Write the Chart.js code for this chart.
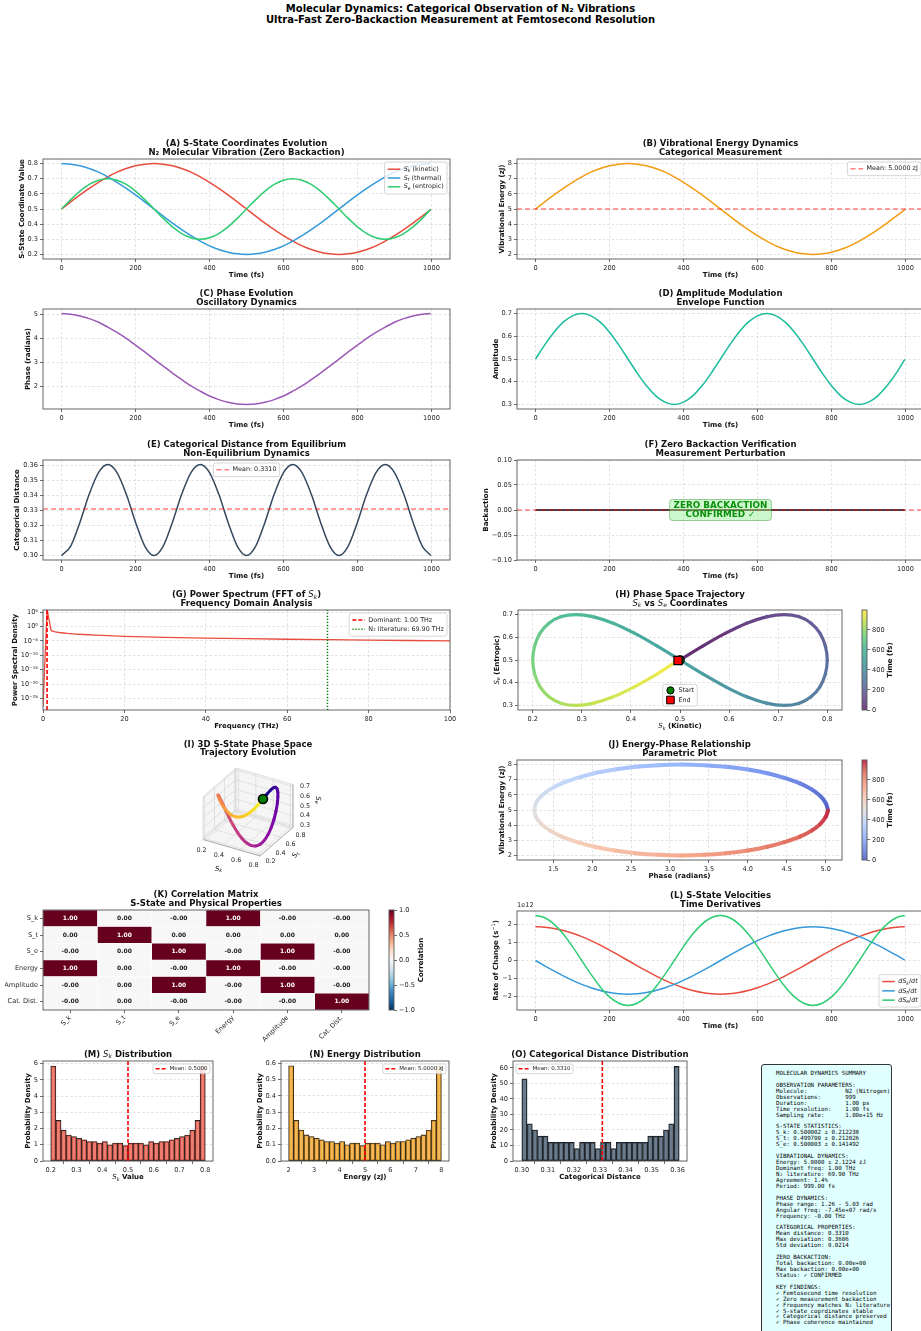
<!DOCTYPE html>
<html>
<head>
<meta charset="utf-8">
<title>Molecular Dynamics: Categorical Observation of N₂ Vibrations</title>
<script src="https://cdn.jsdelivr.net/npm/chart.js@4.4.1/dist/chart.umd.min.js"></script>
<style>
  html, body { margin:0; padding:0; background:#ffffff; }
  body { position:relative; width:921px; height:1331px; overflow:hidden; }
  canvas { position:absolute; }
  #suptitle { position:absolute; left:0; top:3px; width:921px; text-align:center;
    font:bold 10px 'DejaVu Sans', sans-serif; line-height:11px; color:#000; }
  #summary { position:absolute; left:761px; top:1064px; width:131px; height:290px;
    box-sizing:border-box; background:#e0ffff; border:1px solid #333; border-radius:3px; }
  #summary pre { position:absolute; left:14px; top:6px; margin:0;
    font-family:'DejaVu Sans Mono', monospace; font-size:5.75px; line-height:5.936px; color:#000; }
</style>
</head>
<body>
<div id="suptitle">Molecular Dynamics: Categorical Observation of N₂ Vibrations<br>Ultra-Fast Zero-Backaction Measurement at Femtosecond Resolution</div>
<div id="summary"><pre>MOLECULAR DYNAMICS SUMMARY

OBSERVATION PARAMETERS:
Molecule:           N2 (Nitrogen)
Observations:       999
Duration:           1.00 ps
Time resolution:    1.00 fs
Sampling rate:      1.00e+15 Hz

S-STATE STATISTICS:
S_k: 0.500002 ± 0.212238
S_t: 0.499700 ± 0.212026
S_e: 0.500003 ± 0.141492

VIBRATIONAL DYNAMICS:
Energy: 5.0000 ± 2.1224 zJ
Dominant freq: 1.00 THz
N₂ literature: 69.90 THz
Agreement: 1.4%
Period: 999.00 fs

PHASE DYNAMICS:
Phase range: 1.26 - 5.03 rad
Angular freq: -7.45e+07 rad/s
Frequency: -0.00 THz

CATEGORICAL PROPERTIES:
Mean distance: 0.3310
Max deviation: 0.3606
Std deviation: 0.0214

ZERO BACKACTION:
Total backaction: 0.00e+00
Max backaction: 0.00e+00
Status: ✓ CONFIRMED

KEY FINDINGS:
✓ Femtosecond time resolution
✓ Zero measurement backaction
✓ Frequency matches N₂ literature
✓ S-state coordinates stable
✓ Categorical distance preserved
✓ Phase coherence maintained</pre></div>
<script>
// ================= data =================
// trajectory sampled every 25 fs (last sample at 998 fs)
const timeFs = [0,25,50,75,100,125,150,175,200,225,250,275,300,325,350,375,400,425,450,475,500,525,550,575,600,625,650,675,700,725,750,775,800,825,850,875,900,925,950,975,998];
const sKinetic = [0.500,0.547,0.593,0.636,0.676,0.712,0.743,0.767,0.785,0.796,0.800,0.796,0.785,0.767,0.743,0.712,0.676,0.636,0.593,0.547,0.500,0.453,0.407,0.364,0.324,0.288,0.257,0.233,0.215,0.204,0.200,0.204,0.215,0.233,0.257,0.288,0.324,0.364,0.407,0.453,0.496];
const sThermal = [0.800,0.796,0.785,0.767,0.743,0.712,0.676,0.636,0.593,0.547,0.500,0.453,0.407,0.364,0.324,0.288,0.257,0.233,0.215,0.204,0.200,0.204,0.215,0.233,0.257,0.288,0.324,0.364,0.407,0.453,0.500,0.547,0.593,0.636,0.676,0.712,0.743,0.767,0.785,0.796,0.800];
const sEntropic = [0.500,0.562,0.618,0.662,0.690,0.700,0.690,0.662,0.618,0.562,0.500,0.438,0.382,0.338,0.310,0.300,0.310,0.338,0.382,0.438,0.500,0.562,0.618,0.662,0.690,0.700,0.690,0.662,0.618,0.562,0.500,0.438,0.382,0.338,0.310,0.300,0.310,0.338,0.382,0.438,0.498];
const vibEnergy = [5.00,5.47,5.93,6.36,6.76,7.12,7.43,7.67,7.85,7.96,8.00,7.96,7.85,7.67,7.43,7.12,6.76,6.36,5.93,5.47,5.00,4.53,4.07,3.64,3.24,2.88,2.57,2.33,2.15,2.04,2.00,2.04,2.15,2.33,2.57,2.88,3.24,3.64,4.07,4.53,4.96];
const phaseRad = [5.03,5.00,4.93,4.82,4.67,4.47,4.25,4.00,3.72,3.44,3.14,2.85,2.56,2.29,2.03,1.81,1.61,1.46,1.35,1.28,1.26,1.28,1.35,1.46,1.61,1.81,2.03,2.29,2.56,2.85,3.14,3.44,3.72,4.00,4.25,4.47,4.67,4.82,4.93,5.00,5.03];
const amplitude = [0.500,0.562,0.618,0.662,0.690,0.700,0.690,0.662,0.618,0.562,0.500,0.438,0.382,0.338,0.310,0.300,0.310,0.338,0.382,0.438,0.500,0.562,0.618,0.662,0.690,0.700,0.690,0.662,0.618,0.562,0.500,0.438,0.382,0.338,0.310,0.300,0.310,0.338,0.382,0.438,0.498];
const catDistance = [0.3000,0.3063,0.3222,0.3409,0.3552,0.3606,0.3552,0.3409,0.3222,0.3063,0.3000,0.3063,0.3222,0.3409,0.3552,0.3606,0.3552,0.3409,0.3222,0.3063,0.3000,0.3063,0.3222,0.3409,0.3552,0.3606,0.3552,0.3409,0.3222,0.3063,0.3000,0.3063,0.3222,0.3409,0.3552,0.3606,0.3552,0.3409,0.3222,0.3063,0.3000];
const backaction = [0,0,0,0,0,0,0,0,0,0,0,0,0,0,0,0,0,0,0,0,0,0,0,0,0,0,0,0,0,0,0,0,0,0,0,0,0,0,0,0,0];
// velocities in units of 1e12 s^-1
const dSkDt = [1.885,1.862,1.793,1.680,1.525,1.333,1.108,0.856,0.582,0.295,0,-0.295,-0.582,-0.856,-1.108,-1.333,-1.525,-1.680,-1.793,-1.862,-1.885,-1.862,-1.793,-1.680,-1.525,-1.333,-1.108,-0.856,-0.582,-0.295,0,0.295,0.582,0.856,1.108,1.333,1.525,1.680,1.793,1.862,1.885];
const dStDt = [0,-0.295,-0.582,-0.856,-1.108,-1.333,-1.525,-1.680,-1.793,-1.862,-1.885,-1.862,-1.793,-1.680,-1.525,-1.333,-1.108,-0.856,-0.582,-0.295,0,0.295,0.582,0.856,1.108,1.333,1.525,1.680,1.793,1.862,1.885,1.862,1.793,1.680,1.525,1.333,1.108,0.856,0.582,0.295,0.024];
const dSeDt = [2.513,2.390,2.033,1.477,0.777,0,-0.777,-1.477,-2.033,-2.390,-2.513,-2.390,-2.033,-1.477,-0.777,0,0.777,1.477,2.033,2.390,2.513,2.390,2.033,1.477,0.777,0,-0.777,-1.477,-2.033,-2.390,-2.513,-2.390,-2.033,-1.477,-0.777,0,0.777,1.477,2.033,2.390,2.513];

// power spectrum of S_k
const freqTHz = [0,1,2,3,4,5,6,8,10,13,16,20,25,30,40,50,60,70,80,90,100];
const psdSk = [1e-28,1e6,4e-2,1.6e-2,9e-3,6e-3,4.2e-3,2.6e-3,1.8e-3,1.1e-3,7e-4,4e-4,2.6e-4,1.8e-4,1e-4,6.2e-5,4e-5,2.8e-5,2e-5,1.5e-5,1.1e-5];
const DOMINANT_THZ = 1.00;
const N2_LITERATURE_THZ = 69.90;

// means
const MEAN_ENERGY = 5.0000;
const MEAN_DISTANCE = 0.3310;
const MEAN_SK = 0.5000;

// correlation matrix
const corrLabels = ['S_k','S_t','S_e','Energy','Amplitude','Cat. Dist.'];
const corrMatrix = [
  [1, 0.001, -0.001, 1, -0.001, -0.001],
  [0.001, 1, 0.001, 0.001, 0.001, 0.001],
  [-0.001, 0.001, 1, -0.001, 1, -0.001],
  [1, 0.001, -0.001, 1, -0.001, -0.001],
  [-0.001, 0.001, 1, -0.001, 1, -0.001],
  [-0.001, 0.001, -0.001, -0.001, -0.001, 1]
];

// histograms (30 bins each)
const skHist = [5.85,2.5,1.9,1.6,1.5,1.4,1.3,1.2,1.2,1.1,1.2,1.0,1.1,1.1,0.95,1.1,1.1,1.1,1.0,1.2,1.1,1.2,1.2,1.3,1.4,1.5,1.6,1.9,2.5,5.85];
const skHistRange = [0.2, 0.8];
const energyHist = [0.585,0.25,0.19,0.16,0.15,0.14,0.13,0.12,0.12,0.11,0.12,0.10,0.11,0.11,0.095,0.11,0.11,0.11,0.10,0.12,0.11,0.12,0.12,0.13,0.14,0.15,0.16,0.19,0.25,0.585];
const energyHistRange = [2.0, 8.0];
const distHist = [53,24,20,16,16,12,12,12,12,12,8,12,12,12,8,12,12,8,12,12,12,12,12,12,16,16,16,20,24,61];
const distHistRange = [0.3000, 0.3606];

// tick values
const TIME_TICKS = [0,200,400,600,800,1000];
const SK_TICKS = [0.2,0.3,0.4,0.5,0.6,0.7,0.8];
const ENERGY_TICKS = [2,3,4,5,6,7,8];
const PHASE_Y_TICKS = [2,3,4,5];
const AMP_TICKS = [0.3,0.4,0.5,0.6,0.7];
const DIST_TICKS = [0.30,0.31,0.32,0.33,0.34,0.35,0.36];
const BACK_TICKS = [-0.10,-0.05,0,0.05,0.10];
const FREQ_TICKS = [0,20,40,60,80,100];
const PSD_TICKS = [1e5,1,1e-5,1e-10,1e-15,1e-20,1e-25];
const PHASE_X_TICKS = [1.5,2.0,2.5,3.0,3.5,4.0,4.5,5.0];
const CBAR_TIME_TICKS = [0,200,400,600,800];
const CORR_TICKS = [-1,-0.5,0,0.5,1];
const RATE_TICKS = [-2,-1,0,1,2];
const M_Y_TICKS = [0,1,2,3,4,5,6];
const N_Y_TICKS = [0,0.1,0.2,0.3,0.4,0.5,0.6];
const N_X_TICKS = [2,3,4,5,6,7,8];
const O_Y_TICKS = [0,10,20,30,40,50,60];
const TICKS3 = { x:[0.2,0.4,0.6,0.8], y:[0.2,0.4,0.6,0.8], z:[0.3,0.4,0.5,0.6,0.7] };

// ================= styling helpers =================
const FONT = "'DejaVu Sans', sans-serif";
const VIRIDIS = ['#440154','#472d7b','#3b528b','#2c728e','#21918c','#28ae80','#5ec962','#addc30','#fde725'];
const PLASMA = ['#0d0887','#4c02a1','#7e03a8','#a92395','#cc4778','#e56b5d','#f89540','#fdc328','#f0f921'];
const COOLWARM = ['#3b4cc0','#6282ea','#8db0fe','#b8d0f9','#dddddd','#f5c4ac','#f49a7b','#de604d','#b40426'];
const RDBU_R = ['#053061','#2166ac','#4393c3','#92c5de','#d1e5f0','#f7f7f7','#fddbc7','#f4a582','#d6604d','#b2182b','#67001f'];
const T_END = timeFs[timeFs.length - 1];

Chart.defaults.font.family = FONT;
Chart.defaults.font.size = 6.6;
Chart.defaults.color = '#262626';

function hexRgb(h){ const n = parseInt(h.slice(1), 16); return [(n >> 16) & 255, (n >> 8) & 255, n & 255]; }
// colour lookup; 'fade' blends towards white (opaque result)
function cmap(stops, t, fade){
  t = Math.max(0, Math.min(1, t));
  const n = stops.length - 1, k = Math.min(n - 1, Math.floor(t * n)), f = t * n - k;
  const a = hexRgb(stops[k]), b = hexRgb(stops[k + 1]);
  const w = fade || 0;
  const c = a.map((v, i) => Math.round((v + (b[i] - v) * f) * (1 - w) + 255 * w));
  return 'rgb(' + c[0] + ',' + c[1] + ',' + c[2] + ')';
}
function merge(a, b){
  Object.keys(b).forEach(k => {
    const v = b[k];
    if (v && typeof v === 'object' && !Array.isArray(v) && a[k] && typeof a[k] === 'object' && !Array.isArray(a[k])) merge(a[k], v);
    else a[k] = v;
  });
  return a;
}
function fmtFixed(d){ return v => (v < -1e-12 ? '−' : '') + Math.abs(v).toFixed(d); }
const SUP = { '0':'⁰','1':'¹','2':'²','3':'³','4':'⁴','5':'⁵','6':'⁶','7':'⁷','8':'⁸','9':'⁹','-':'⁻' };
function fmtPow10(v){ const e = Math.round(Math.log10(v)); return '10' + String(e).split('').map(c => SUP[c]).join(''); }

function axisCfg(min, max, ticks, fmt, more){
  const base = {
    type: 'linear', min, max, bounds: 'data', offset: false,
    afterBuildTicks: s => { s.ticks = ticks.map(v => ({ value: v })); },
    ticks: { callback: v => fmt(v), padding: 2, autoSkip: false, maxRotation: 0, minRotation: 0, color: '#262626', font: { size: 6.6 } },
    grid: { color: 'rgba(170,170,170,0.55)', lineWidth: 0.6, tickLength: 3, tickColor: '#444', tickWidth: 0.8, drawTicks: true },
    border: { display: false, dash: [2.5, 2] }
  };
  return merge(base, more || {});
}

function series(xs, ys, color, extra){
  return Object.assign({
    type: 'line', data: xs.map((x, i) => ({ x, y: ys[i] })), borderColor: color, backgroundColor: color,
    borderWidth: 1.5, pointRadius: 0, cubicInterpolationMode: 'monotone', fill: false, clip: 2
  }, extra || {});
}
function hline(x0, x1, y, color, extra){
  return series([x0, x1], [y, y], color, Object.assign({ cubicInterpolationMode: 'default', tension: 0 }, extra || {}));
}
function vline(x, y0, y1, color, extra){
  return series([x, x], [y0, y1], color, Object.assign({ cubicInterpolationMode: 'default', tension: 0, clip: 0 }, extra || {}));
}

// ---- text with simple $math$ markup (italic symbols, sub/superscripts) ----
function parseRich(s){
  const parts = [];
  String(s).split('$').forEach((seg, k) => {
    if (!seg) return;
    if (k % 2 === 0) { parts.push({ t: seg }); return; }
    let i = 0;
    while (i < seg.length) {
      const c = seg[i];
      if (c === '_' || c === '^') {
        let g;
        if (seg[i + 1] === '{') { const e = seg.indexOf('}', i + 1); g = seg.slice(i + 2, e); i = e + 1; }
        else { g = seg[i + 1]; i += 2; }
        parts.push({ t: g.replace(/-/g, '−'), m: 1, it: /[A-Za-z]/.test(g), sub: c === '_', sup: c === '^' });
      } else { parts.push({ t: c, m: 1, it: /[A-Za-z]/.test(c) }); i++; }
    }
  });
  return parts;
}
function partFont(p, size, bold){
  const sz = (p.sub || p.sup) ? size * 0.7 : size;
  return (p.it ? 'italic ' : '') + (bold && !p.m ? 'bold ' : '') + sz.toFixed(2) + 'px ' + FONT;
}
function richWidth(ctx, parts, size, bold){
  let w = 0;
  parts.forEach(p => { ctx.font = partFont(p, size, bold); w += ctx.measureText(p.t).width; });
  return w;
}
function drawRich(ctx, text, x, y, align, size, bold, color){
  const parts = parseRich(text);
  const w = richWidth(ctx, parts, size, bold);
  let cx = align === 'center' ? x - w / 2 : (align === 'right' ? x - w : x);
  ctx.fillStyle = color || '#111';
  ctx.textBaseline = 'middle'; ctx.textAlign = 'left';
  parts.forEach(p => {
    ctx.font = partFont(p, size, bold);
    const dy = p.sub ? size * 0.28 : (p.sup ? -size * 0.35 : 0);
    ctx.fillText(p.t, cx, y + dy);
    cx += ctx.measureText(p.t).width;
  });
  return w;
}
function roundRectPath(ctx, x, y, w, h, r){
  ctx.beginPath();
  ctx.moveTo(x + r, y); ctx.lineTo(x + w - r, y); ctx.quadraticCurveTo(x + w, y, x + w, y + r);
  ctx.lineTo(x + w, y + h - r); ctx.quadraticCurveTo(x + w, y + h, x + w - r, y + h);
  ctx.lineTo(x + r, y + h); ctx.quadraticCurveTo(x, y + h, x, y + h - r);
  ctx.lineTo(x, y + r); ctx.quadraticCurveTo(x, y, x + r, y); ctx.closePath();
}
function drawLegend(ctx, a, L){
  const fs = L.fs || 6.4, rowH = L.rowH || fs * 1.38, px = L.px || 3.2, py = L.py || 2.4;
  const hl = L.hl || 12.5, gap = L.gap || 3.5, m = L.m == null ? 3 : L.m;
  let tw = 0;
  L.items.forEach(it => { tw = Math.max(tw, richWidth(ctx, parseRich(it.label), fs, false)); });
  const w = px * 2 + hl + gap + tw, h = py * 2 + rowH * L.items.length;
  const loc = L.loc || 'ur';
  let x = loc[1] === 'r' ? a.right - m - w : (loc[1] === 'l' ? a.left + m : (a.left + a.right - w) / 2);
  let y = loc[0] === 'u' ? a.top + m : a.bottom - m - h;
  ctx.save();
  roundRectPath(ctx, x, y, w, h, 2);
  ctx.fillStyle = 'rgba(255,255,255,0.8)'; ctx.fill();
  ctx.strokeStyle = '#cccccc'; ctx.lineWidth = 0.8; ctx.stroke();
  L.items.forEach((it, k) => {
    const cy = y + py + rowH * (k + 0.5), x0 = x + px;
    if (it.marker) {
      ctx.fillStyle = it.color; ctx.strokeStyle = '#000'; ctx.lineWidth = 1;
      ctx.beginPath();
      const s = it.size || 3.6;
      if (it.marker === 'circle') ctx.arc(x0 + hl / 2, cy, s, 0, Math.PI * 2);
      else ctx.rect(x0 + hl / 2 - s, cy - s, 2 * s, 2 * s);
      ctx.fill(); ctx.stroke();
    } else {
      ctx.strokeStyle = it.color; ctx.lineWidth = it.lw || 1.5; ctx.setLineDash(it.dash || []);
      ctx.beginPath(); ctx.moveTo(x0, cy); ctx.lineTo(x0 + hl, cy); ctx.stroke();
      ctx.setLineDash([]);
    }
    drawRich(ctx, it.label, x0 + hl + gap, cy, 'left', fs, false, '#222');
  });
  ctx.restore();
}

// titles, axis labels, frame and legend for one panel
function decoPlugin(o){
  return {
    id: 'deco',
    beforeDatasetsDraw(chart){
      if (o.before) { const c = chart.ctx; c.save(); o.before(chart, c, chart.chartArea); c.restore(); }
    },
    afterDraw(chart){
      const ctx = chart.ctx, a = chart.chartArea;
      ctx.save();
      if (o.after) { ctx.save(); o.after(chart, ctx, a); ctx.restore(); }
      if (o.frame !== false) {
        ctx.setLineDash([]); ctx.strokeStyle = '#555'; ctx.lineWidth = 0.9;
        ctx.strokeRect(a.left, a.top, a.right - a.left, a.bottom - a.top);
      }
      const cx = (a.left + a.right) / 2;
      if (o.title) o.title.forEach((t, i, arr) =>
        drawRich(ctx, t, cx + (o.titleDx || 0), a.top - 6.7 - (arr.length - 1 - i) * 8.6 + (o.titleDy || 0), 'center', 8.5, true, '#111'));
      if (o.xlabel) drawRich(ctx, o.xlabel, cx, a.bottom + 16.5, 'center', 7, true, '#111');
      const lab = o.ylabel || o.rlabel;
      if (lab) {
        const sc = chart.scales.y;
        ctx.font = '6.6px ' + FONT;
        let mw = 0;
        sc.ticks.forEach(t => { mw = Math.max(mw, ctx.measureText(String(t.label)).width); });
        const x = o.rlabel ? a.right + 5 + mw + 2.2 + 3.5 : a.left - 5 - mw - 2.2 - 3.5;
        ctx.save(); ctx.translate(x, (a.top + a.bottom) / 2); ctx.rotate(-Math.PI / 2);
        drawRich(ctx, lab, 0, 0, 'center', 7, true, '#111');
        ctx.restore();
      }
      if (o.legend) drawLegend(ctx, a, o.legend);
      ctx.restore();
    }
  };
}

// places a canvas so that the plotting area lands exactly on 'box'
function makeChart(box, pad, config, deco){
  const cv = document.createElement('canvas');
  const W = box.w + pad.l + pad.r, H = box.h + pad.t + pad.b;
  cv.width = W; cv.height = H;
  Object.assign(cv.style, { left: (box.x - pad.l) + 'px', top: (box.y - pad.t) + 'px', width: W + 'px', height: H + 'px' });
  document.body.appendChild(cv);
  const opt = config.options = config.options || {};
  const scales = opt.scales || {};
  const padding = { left: pad.l, right: pad.r, top: pad.t, bottom: pad.b };
  Object.keys(scales).forEach(id => {
    const s = scales[id];
    if (s.display === false) return;
    if (id[0] === 'x') { s.afterFit = sc => { sc.height = pad.b; }; padding.bottom = 0; }
    else if (s.position === 'right') { s.afterFit = sc => { sc.width = pad.r; }; padding.right = 0; }
    else { s.afterFit = sc => { sc.width = pad.l; }; padding.left = 0; }
  });
  opt.layout = { padding };
  opt.responsive = false; opt.animation = false; opt.devicePixelRatio = 1; opt.events = [];
  opt.plugins = { legend: { display: false }, tooltip: { enabled: false } };
  config.data.datasets.forEach((d, i) => { if (d.order == null) d.order = -i; });
  config.plugins = [decoPlugin(deco || {})];
  return new Chart(cv, config);
}

function colorbar(box, stops, fade, min, max, ticks, fmt, label){
  return makeChart(box, { l: 2, r: 42, t: 8, b: 8 }, {
    type: 'bar',
    data: { labels: [''], datasets: [{
      data: [[min, max]], barPercentage: 1, categoryPercentage: 1, borderWidth: 0,
      backgroundColor: c => {
        const a = c.chart.chartArea;
        if (!a) return 'transparent';
        const g = c.chart.ctx.createLinearGradient(0, a.bottom, 0, a.top);
        const n = 24;
        for (let i = 0; i <= n; i++) g.addColorStop(i / n, cmap(stops, i / n, fade));
        return g;
      }
    }]},
    options: { scales: {
      x: { display: false },
      y: axisCfg(min, max, ticks, fmt, { position: 'right', grid: { drawOnChartArea: false } })
    } }
  }, { rlabel: label });
}

function histData(vals, range){
  const w = (range[1] - range[0]) / vals.length;
  return vals.map((v, i) => ({ x: range[0] + (i + 0.5) * w, y: v }));
}
function histDataset(vals, range, fill){
  return { type: 'bar', data: histData(vals, range), backgroundColor: fill, borderColor: '#1e1e1e',
    borderWidth: 0.8, borderSkipped: false, barPercentage: 1, categoryPercentage: 1 };
}

const PAD = { l: 38, r: 16, t: 26, b: 24 };
const xTime = () => axisCfg(-50, 1050, TIME_TICKS, fmtFixed(0));
const meanRed = 'rgba(255,0,0,0.5)';

// ---------- (A) ----------
makeChart({ x: 43, y: 159, w: 407, h: 100 }, PAD, {
  type: 'line',
  data: { datasets: [
    series(timeFs, sKinetic, '#e74c3c'),
    series(timeFs, sThermal, '#3498db'),
    series(timeFs, sEntropic, '#2ecc71')
  ]},
  options: { scales: { x: xTime(), y: axisCfg(0.17, 0.83, SK_TICKS, fmtFixed(1)) } }
}, {
  title: ['(A) S-State Coordinates Evolution', 'N₂ Molecular Vibration (Zero Backaction)'],
  xlabel: 'Time (fs)', ylabel: 'S-State Coordinate Value',
  legend: { loc: 'ur', rowH: 8.8, py: 2.8, items: [
    { label: '$S_k$ (kinetic)', color: '#e74c3c' },
    { label: '$S_t$ (thermal)', color: '#3498db' },
    { label: '$S_e$ (entropic)', color: '#2ecc71' }
  ]}
});

// ---------- (B) ----------
makeChart({ x: 517, y: 159, w: 407, h: 100 }, PAD, {
  type: 'line',
  data: { datasets: [
    series(timeFs, vibEnergy, '#f39c12'),
    hline(-50, 1050, MEAN_ENERGY, meanRed, { borderDash: [5, 3] })
  ]},
  options: { scales: { x: xTime(), y: axisCfg(1.7, 8.3, ENERGY_TICKS, fmtFixed(0)) } }
}, {
  title: ['(B) Vibrational Energy Dynamics', 'Categorical Measurement'],
  xlabel: 'Time (fs)', ylabel: 'Vibrational Energy (zJ)',
  legend: { loc: 'ur', items: [{ label: 'Mean: ' + MEAN_ENERGY.toFixed(4) + ' zJ', color: meanRed, dash: [5, 3] }] }
});

// ---------- (C) ----------
makeChart({ x: 43, y: 309, w: 407, h: 100 }, PAD, {
  type: 'line',
  data: { datasets: [ series(timeFs, phaseRad, '#9b59b6') ] },
  options: { scales: { x: xTime(), y: axisCfg(1.07, 5.22, PHASE_Y_TICKS, fmtFixed(0)) } }
}, { title: ['(C) Phase Evolution', 'Oscillatory Dynamics'], xlabel: 'Time (fs)', ylabel: 'Phase (radians)' });

// ---------- (D) ----------
makeChart({ x: 517, y: 309, w: 407, h: 100 }, PAD, {
  type: 'line',
  data: { datasets: [ series(timeFs, amplitude, '#1abc9c') ] },
  options: { scales: { x: xTime(), y: axisCfg(0.28, 0.72, AMP_TICKS, fmtFixed(1)) } }
}, { title: ['(D) Amplitude Modulation', 'Envelope Function'], xlabel: 'Time (fs)', ylabel: 'Amplitude' });

// ---------- (E) ----------
makeChart({ x: 43, y: 460, w: 407, h: 100 }, PAD, {
  type: 'line',
  data: { datasets: [
    series(timeFs, catDistance, '#34495e'),
    hline(-50, 1050, MEAN_DISTANCE, meanRed, { borderDash: [5, 3] })
  ]},
  options: { scales: { x: xTime(), y: axisCfg(0.297, 0.3636, DIST_TICKS, fmtFixed(2)) } }
}, {
  title: ['(E) Categorical Distance from Equilibrium', 'Non-Equilibrium Dynamics'],
  xlabel: 'Time (fs)', ylabel: 'Categorical Distance',
  legend: { loc: 'uc', items: [{ label: 'Mean: ' + MEAN_DISTANCE.toFixed(4), color: meanRed, dash: [5, 3] }] }
});

// ---------- (F) ----------
makeChart({ x: 517, y: 460, w: 407, h: 100 }, PAD, {
  type: 'line',
  data: { datasets: [
    series(timeFs, backaction, '#000000', { borderWidth: 1.6 }),
    hline(-50, 1050, 0, meanRed, { borderDash: [5, 3] })
  ]},
  options: { scales: { x: xTime(), y: axisCfg(-0.1, 0.1, BACK_TICKS, fmtFixed(2)) } }
}, {
  title: ['(F) Zero Backaction Verification', 'Measurement Perturbation'],
  xlabel: 'Time (fs)', ylabel: 'Backaction',
  after: (chart, ctx, a) => {
    const cx = (a.left + a.right) / 2, cy = (a.top + a.bottom) / 2;
    const l1 = 'ZERO BACKACTION', l2 = 'CONFIRMED ✓';
    ctx.font = 'bold 8.8px ' + FONT;
    const w = Math.max(ctx.measureText(l1).width, ctx.measureText(l2).width) + 8, h = 21;
    roundRectPath(ctx, cx - w / 2, cy - h / 2, w, h, 3);
    ctx.fillStyle = 'rgba(144,238,144,0.45)'; ctx.fill();
    ctx.strokeStyle = 'rgba(60,150,60,0.6)'; ctx.lineWidth = 0.8; ctx.stroke();
    ctx.fillStyle = '#0a8f0a'; ctx.textAlign = 'center'; ctx.textBaseline = 'middle';
    ctx.fillText(l1, cx, cy - 4.6); ctx.fillText(l2, cx, cy + 4.8);
  }
});

// ---------- (G) ----------
makeChart({ x: 43, y: 610, w: 407, h: 100 }, PAD, {
  type: 'line',
  data: { datasets: [
    series(freqTHz, psdSk, '#e74c3c', { cubicInterpolationMode: 'default', tension: 0, clip: 0, borderWidth: 1.3 }),
    vline(DOMINANT_THZ, 1e-29, 6e5, '#ff0000', { borderDash: [4, 2], borderWidth: 1.6 }),
    vline(N2_LITERATURE_THZ, 1e-29, 6e5, '#008000', { borderDash: [1.2, 1.8], borderWidth: 1.5 })
  ]},
  options: { scales: {
    x: axisCfg(0, 100, FREQ_TICKS, fmtFixed(0)),
    y: axisCfg(1e-29, 6e5, PSD_TICKS, fmtPow10, { type: 'logarithmic' })
  } }
}, {
  title: ['(G) Power Spectrum (FFT of $S_k$)', 'Frequency Domain Analysis'],
  xlabel: 'Frequency (THz)', ylabel: 'Power Spectral Density',
  legend: { loc: 'ur', rowH: 9.2, items: [
    { label: 'Dominant: ' + DOMINANT_THZ.toFixed(2) + ' THz', color: '#ff0000', dash: [4, 2], lw: 1.6 },
    { label: 'N₂ literature: ' + N2_LITERATURE_THZ.toFixed(2) + ' THz', color: '#008000', dash: [1.2, 1.8], lw: 1.5 }
  ]}
});

// ---------- (H) ----------
const lastIdx = timeFs.length - 1;
makeChart({ x: 518, y: 610, w: 324, h: 100 }, PAD, {
  type: 'line',
  data: { datasets: [
    { type: 'line', data: sKinetic.map((x, i) => ({ x, y: sEntropic[i] })), borderColor: VIRIDIS[0], borderWidth: 3.2,
      tension: 0.35, pointRadius: 0, borderCapStyle: 'round', clip: 4,
      segment: { borderColor: c => cmap(VIRIDIS, timeFs[c.p0DataIndex] / T_END, 0.18) } },
    { type: 'scatter', data: [{ x: sKinetic[0], y: sEntropic[0] }], pointStyle: 'circle', pointRadius: 4.2,
      backgroundColor: '#008000', borderColor: '#000', borderWidth: 1.2 },
    { type: 'scatter', data: [{ x: sKinetic[lastIdx], y: sEntropic[lastIdx] }], pointStyle: 'rect', pointRadius: 5.8,
      backgroundColor: '#ff0000', borderColor: '#000', borderWidth: 1.2 }
  ]},
  options: { scales: { x: axisCfg(0.17, 0.83, SK_TICKS, fmtFixed(1)), y: axisCfg(0.28, 0.72, AMP_TICKS, fmtFixed(1)) } }
}, {
  title: ['(H) Phase Space Trajectory', '$S_k$ vs $S_e$ Coordinates'],
  xlabel: '$S_k$ (Kinetic)', ylabel: '$S_e$ (Entropic)',
  legend: { loc: 'lc', m: 4, rowH: 9.6, py: 1.2, hl: 9, items: [
    { label: 'Start', color: '#008000', marker: 'circle', size: 3.6 },
    { label: 'End', color: '#ff0000', marker: 'square', size: 3.8 }
  ]}
});
colorbar({ x: 862, y: 610, w: 5, h: 100 }, VIRIDIS, 0.25, 0, T_END, CBAR_TIME_TICKS, fmtFixed(0), 'Time (fs)');

// ---------- (I) 3-D trajectory ----------
const LIM3 = { x: [0.17, 0.83], y: [0.17, 0.83], z: [0.28, 0.72] };
const BOX3 = [4, 4, 3];
const ELEV = 30 * Math.PI / 180, AZIM = -60 * Math.PI / 180;
function proj3(x, y, z){
  const X = ((x - LIM3.x[0]) / (LIM3.x[1] - LIM3.x[0]) - 0.5) * BOX3[0];
  const Y = ((y - LIM3.y[0]) / (LIM3.y[1] - LIM3.y[0]) - 0.5) * BOX3[1];
  const Z = ((z - LIM3.z[0]) / (LIM3.z[1] - LIM3.z[0]) - 0.5) * BOX3[2];
  return {
    x: -Math.sin(AZIM) * X + Math.cos(AZIM) * Y,
    y: -Math.sin(ELEV) * Math.cos(AZIM) * X - Math.sin(ELEV) * Math.sin(AZIM) * Y + Math.cos(ELEV) * Z
  };
}
function pix3(chart, x, y, z){
  const p = proj3(x, y, z);
  return [chart.scales.x.getPixelForValue(p.x), chart.scales.y.getPixelForValue(p.y)];
}
const traj3 = timeFs.map((t, i) => proj3(sKinetic[i], sThermal[i], sEntropic[i]));
makeChart({ x: 203, y: 768, w: 90, h: 88 }, { l: 42, r: 48, t: 34, b: 24 }, {
  type: 'line',
  data: { datasets: [
    { type: 'line', data: traj3, borderColor: PLASMA[0], borderWidth: 3, tension: 0.35, pointRadius: 0,
      borderCapStyle: 'round', clip: false,
      segment: { borderColor: c => cmap(PLASMA, timeFs[c.p0DataIndex] / T_END, 0) } },
    { type: 'scatter', data: [traj3[0]], pointStyle: 'circle', pointRadius: 4.5, backgroundColor: '#008000',
      borderColor: '#000', borderWidth: 1.6, clip: false }
  ]},
  options: { scales: {
    x: { type: 'linear', display: false, min: -2.732, max: 2.732 },
    y: { type: 'linear', display: false, min: -2.665, max: 2.665 }
  } }
}, {
  frame: false, titleDy: -8.3,
  title: ['(I) 3D S-State Phase Space', 'Trajectory Evolution'],
  before: (chart, ctx) => {
    const P = (x, y, z) => pix3(chart, x, y, z);
    const [x0, x1] = LIM3.x, [y0, y1] = LIM3.y, [z0, z1] = LIM3.z;
    const poly = pts => {
      ctx.beginPath(); pts.forEach((p, i) => i ? ctx.lineTo(p[0], p[1]) : ctx.moveTo(p[0], p[1])); ctx.closePath();
      ctx.fillStyle = 'rgba(238,238,238,0.6)'; ctx.fill();
      ctx.strokeStyle = '#cfcfcf'; ctx.lineWidth = 0.6; ctx.stroke();
    };
    poly([P(x0, y0, z0), P(x0, y1, z0), P(x0, y1, z1), P(x0, y0, z1)]);
    poly([P(x0, y1, z0), P(x1, y1, z0), P(x1, y1, z1), P(x0, y1, z1)]);
    poly([P(x0, y0, z0), P(x1, y0, z0), P(x1, y1, z0), P(x0, y1, z0)]);
    const seg = (p, q) => { ctx.beginPath(); ctx.moveTo(p[0], p[1]); ctx.lineTo(q[0], q[1]); ctx.stroke(); };
    ctx.strokeStyle = '#d4d4d4'; ctx.lineWidth = 0.6;
    TICKS3.x.forEach(v => { seg(P(v, y0, z0), P(v, y1, z0)); seg(P(v, y1, z0), P(v, y1, z1)); });
    TICKS3.y.forEach(v => { seg(P(x0, v, z0), P(x1, v, z0)); seg(P(x0, v, z0), P(x0, v, z1)); });
    TICKS3.z.forEach(v => { seg(P(x0, y0, v), P(x0, y1, v)); seg(P(x0, y1, v), P(x1, y1, v)); });
    ctx.strokeStyle = '#9a9a9a'; ctx.lineWidth = 0.7;
    seg(P(x0, y0, z0), P(x1, y0, z0)); seg(P(x1, y0, z0), P(x1, y1, z0)); seg(P(x1, y1, z0), P(x1, y1, z1));
  },
  after: (chart, ctx) => {
    const P = (x, y, z) => pix3(chart, x, y, z);
    const [x0, x1] = LIM3.x, [y0, y1] = LIM3.y, [z0, z1] = LIM3.z;
    ctx.font = '6.4px ' + FONT; ctx.fillStyle = '#262626'; ctx.textAlign = 'center'; ctx.textBaseline = 'middle';
    TICKS3.x.forEach(v => { const p = P(v, y0, z0); ctx.fillText(v.toFixed(1), p[0] - 4, p[1] + 10); });
    TICKS3.y.forEach(v => { const p = P(x1, v, z0); ctx.fillText(v.toFixed(1), p[0] + 9, p[1] + 7); });
    TICKS3.z.forEach(v => { const p = P(x1, y1, v); ctx.fillText(v.toFixed(1), p[0] + 12, p[1]); });
    const mk = P((x0 + x1) / 2, y0, z0);
    drawRich(ctx, '$S_k$', mk[0] - 13, mk[1] + 21, 'center', 7, true, '#111');
    const mt = P(x1, (y0 + y1) / 2, z0);
    ctx.save(); ctx.translate(mt[0] + 19, mt[1] + 13); ctx.rotate(-Math.PI / 3);
    drawRich(ctx, '$S_t$', 0, 0, 'center', 7, true, '#111'); ctx.restore();
    const me = P(x1, y1, (z0 + z1) / 2);
    ctx.save(); ctx.translate(me[0] + 25, me[1] - 6); ctx.rotate(Math.PI / 2);
    drawRich(ctx, '$S_e$', 0, 0, 'center', 7, true, '#111'); ctx.restore();
  }
});

// ---------- (J) ----------
makeChart({ x: 517, y: 760, w: 325, h: 100 }, PAD, {
  type: 'line',
  data: { datasets: [
    { type: 'line', data: phaseRad.map((x, i) => ({ x, y: vibEnergy[i] })), borderColor: COOLWARM[0], borderWidth: 4,
      tension: 0.35, pointRadius: 0, borderCapStyle: 'round', clip: 4,
      segment: { borderColor: c => cmap(COOLWARM, timeFs[c.p0DataIndex] / T_END, 0.12) } }
  ]},
  options: { scales: { x: axisCfg(1.035, 5.21, PHASE_X_TICKS, fmtFixed(1)), y: axisCfg(1.7, 8.3, ENERGY_TICKS, fmtFixed(0)) } }
}, { title: ['(J) Energy-Phase Relationship', 'Parametric Plot'], xlabel: 'Phase (radians)', ylabel: 'Vibrational Energy (zJ)' });
colorbar({ x: 862, y: 760, w: 5, h: 100 }, COOLWARM, 0.2, 0, T_END, CBAR_TIME_TICKS, fmtFixed(0), 'Time (fs)');

// ---------- (K) correlation heatmap ----------
makeChart({ x: 43, y: 910, w: 326, h: 100 }, { l: 38, r: 12, t: 26, b: 36 }, {
  type: 'bar',
  data: { labels: corrLabels, datasets: corrLabels.map((_, j) => ({
    data: corrLabels.map(() => 1),
    backgroundColor: corrMatrix.map(row => cmap(RDBU_R, (row[j] + 1) / 2, 0)),
    borderColor: '#ffffff', borderWidth: 0.5, borderSkipped: false, barPercentage: 1, categoryPercentage: 1, order: 0
  })) },
  options: {
    indexAxis: 'y',
    scales: {
      x: axisCfg(0, corrLabels.length, corrLabels.map((_, i) => i + 0.5), v => corrLabels[Math.floor(v)], {
        stacked: true, grid: { drawOnChartArea: false },
        ticks: { minRotation: 45, maxRotation: 45, padding: 1 }
      }),
      y: { type: 'category', stacked: true, offset: true,
        ticks: { color: '#262626', font: { size: 6.6 }, padding: 2, autoSkip: false },
        grid: { drawOnChartArea: false, offset: false, tickLength: 3, tickColor: '#444', tickWidth: 0.8 },
        border: { display: false } }
    }
  }
}, {
  title: ['(K) Correlation Matrix', 'S-State and Physical Properties'],
  after: (chart, ctx) => {
    const xs = chart.scales.x, ys = chart.scales.y;
    ctx.font = 'bold 6px ' + FONT; ctx.textAlign = 'center'; ctx.textBaseline = 'middle';
    corrMatrix.forEach((row, r) => row.forEach((v, c) => {
      ctx.fillStyle = Math.abs(v) > 0.5 ? '#ffffff' : '#1a1a1a';
      ctx.fillText(v.toFixed(2), xs.getPixelForValue(c + 0.5), ys.getPixelForValue(r));
    }));
  }
});
colorbar({ x: 389, y: 910, w: 5, h: 100 }, RDBU_R, 0, -1, 1, CORR_TICKS, fmtFixed(1), 'Correlation');

// ---------- (L) ----------
makeChart({ x: 517, y: 911, w: 407, h: 99 }, PAD, {
  type: 'line',
  data: { datasets: [
    series(timeFs, dSkDt, '#e74c3c'),
    series(timeFs, dStDt, '#3498db'),
    series(timeFs, dSeDt, '#2ecc71')
  ]},
  options: { scales: { x: xTime(), y: axisCfg(-2.765, 2.765, RATE_TICKS, fmtFixed(0)) } }
}, {
  title: ['(L) S-State Velocities', 'Time Derivatives'],
  xlabel: 'Time (fs)', ylabel: 'Rate of Change (s$^{-1}$)',
  legend: { loc: 'lr', rowH: 9.3, py: 2.2, items: [
    { label: '$dS_k/dt$', color: '#e74c3c' },
    { label: '$dS_t/dt$', color: '#3498db' },
    { label: '$dS_e/dt$', color: '#2ecc71' }
  ]},
  after: (chart, ctx, a) => {
    ctx.font = '6.6px ' + FONT; ctx.fillStyle = '#262626'; ctx.textAlign = 'left'; ctx.textBaseline = 'middle';
    ctx.fillText('1e12', a.left, a.top - 6);
  }
});

// ---------- (M) (N) (O) histograms ----------
const HPAD = { l: 32, r: 14, t: 14, b: 24 };
const histX = (min, max, ticks, d) => axisCfg(min, max, ticks, fmtFixed(d), { grid: { drawOnChartArea: false } });
const smallLegend = (loc, label) => ({ loc, fs: 5.5, rowH: 7, py: 1.3, px: 2.6, hl: 11, gap: 3,
  items: [{ label, color: '#ff0000', dash: [4, 2], lw: 1.5 }] });

makeChart({ x: 43, y: 1061, w: 170, h: 100 }, HPAD, {
  type: 'bar',
  data: { datasets: [
    histDataset(skHist, skHistRange, 'rgba(231,76,60,0.72)'),
    vline(MEAN_SK, 0, 6.16, '#ff0000', { borderDash: [4, 2], borderWidth: 1.6 })
  ]},
  options: { scales: { x: histX(0.17, 0.83, SK_TICKS, 1), y: axisCfg(0, 6.16, M_Y_TICKS, fmtFixed(0)) } }
}, { title: ['(M) $S_k$ Distribution'], xlabel: '$S_k$ Value', ylabel: 'Probability Density',
  legend: smallLegend('ur', 'Mean: ' + MEAN_SK.toFixed(4)) });

makeChart({ x: 281, y: 1061, w: 168, h: 100 }, HPAD, {
  type: 'bar',
  data: { datasets: [
    histDataset(energyHist, energyHistRange, 'rgba(243,156,18,0.72)'),
    vline(MEAN_ENERGY, 0, 0.614, '#ff0000', { borderDash: [4, 2], borderWidth: 1.6 })
  ]},
  options: { scales: { x: histX(1.7, 8.3, N_X_TICKS, 0), y: axisCfg(0, 0.614, N_Y_TICKS, fmtFixed(1)) } }
}, { title: ['(N) Energy Distribution'], xlabel: 'Energy (zJ)', ylabel: 'Probability Density',
  legend: smallLegend('ur', 'Mean: ' + MEAN_ENERGY.toFixed(4) + ' zJ') });

makeChart({ x: 513, y: 1061, w: 174, h: 100 }, HPAD, {
  type: 'bar',
  data: { datasets: [
    histDataset(distHist, distHistRange, 'rgba(52,73,94,0.72)'),
    vline(MEAN_DISTANCE, 0, 64.5, '#ff0000', { borderDash: [4, 2], borderWidth: 1.6 })
  ]},
  options: { scales: { x: histX(0.2966, 0.3636, DIST_TICKS, 2), y: axisCfg(0, 64.5, O_Y_TICKS, fmtFixed(0)) } }
}, { title: ['(O) Categorical Distance Distribution'], xlabel: 'Categorical Distance', ylabel: 'Probability Density',
  legend: smallLegend('ul', 'Mean: ' + MEAN_DISTANCE.toFixed(4)) });
</script>
</body>
</html>
